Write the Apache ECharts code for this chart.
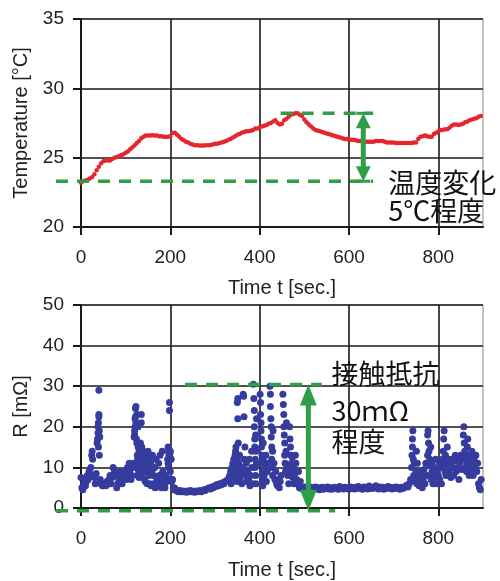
<!DOCTYPE html>
<html><head><meta charset="utf-8">
<script src="https://cdn.jsdelivr.net/npm/echarts@6/dist/echarts.min.js"></script>
<style>html,body{margin:0;padding:0;background:#fff}#c{width:500px;height:581px}</style>
</head><body><div id="c"></div>
<script>
// ---- tick values ----
const timeTicks = [0, 200, 400, 600, 800];
const tempTicks = [20, 25, 30, 35];
const resTicks = [0, 10, 20, 30, 40, 50];

// ---- temperature series [time s, °C] ----
const tempData = [
[0,23.2],[5,23.3],[10,23.35],[15,23.4],[20,23.5],[25,23.6],[30,23.8],[35,24.1],[40,24.35],[45,24.6],
[50,24.75],[55,24.8],[60,24.8],[65,24.8],[70,24.9],[75,25.0],[80,25.05],[85,25.1],[90,25.2],[95,25.25],
[100,25.35],[105,25.45],[110,25.6],[115,25.75],[120,25.9],[125,26.05],[130,26.2],[135,26.4],[140,26.5],[145,26.6],
[150,26.6],[155,26.6],[160,26.62],[165,26.6],[170,26.6],[175,26.55],[180,26.55],[185,26.5],[190,26.5],[195,26.5],
[200,26.55],[205,26.8],[210,26.8],[215,26.65],[220,26.5],[225,26.35],[230,26.25],[235,26.15],[240,26.1],[245,26.0],
[250,25.95],[255,25.9],[260,25.9],[265,25.88],[270,25.88],[275,25.88],[280,25.9],[285,25.9],[290,25.92],[295,25.95],
[300,26.0],[305,26.0],[310,26.05],[315,26.1],[320,26.15],[325,26.2],[330,26.3],[335,26.35],[340,26.45],[345,26.55],
[350,26.65],[355,26.7],[360,26.8],[365,26.85],[370,26.9],[375,26.9],[380,26.95],[385,27.0],[390,27.1],[395,27.1],
[400,27.2],[405,27.25],[410,27.3],[415,27.35],[420,27.45],[425,27.5],[430,27.6],[435,27.7],[440,27.5],[445,27.4],
[450,27.45],[455,27.7],[460,27.8],[465,27.95],[470,28.1],[475,28.15],[480,28.2],[485,28.2],[490,28.1],[495,28.0],
[500,27.75],[505,27.55],[510,27.4],[515,27.25],[520,27.1],[525,27.0],[530,26.95],[535,26.9],[540,26.85],[545,26.8],
[550,26.75],[555,26.7],[560,26.65],[565,26.6],[570,26.55],[575,26.5],[580,26.45],[585,26.4],[590,26.35],[595,26.35],
[600,26.3],[605,26.3],[610,26.3],[615,26.25],[620,26.2],[625,26.2],[630,26.18],[635,26.15],[640,26.15],[645,26.15],
[650,26.15],[655,26.15],[660,26.2],[665,26.2],[670,26.2],[675,26.2],[680,26.15],[685,26.1],[690,26.1],[695,26.1],
[700,26.1],[705,26.05],[710,26.05],[715,26.05],[720,26.05],[725,26.05],[730,26.05],[735,26.05],[740,26.05],[745,26.1],
[750,26.1],[755,26.35],[760,26.5],[765,26.55],[770,26.6],[775,26.55],[780,26.5],[785,26.5],[790,26.7],[795,26.8],
[800,26.9],[805,27.0],[810,27.0],[815,27.05],[820,27.05],[825,27.15],[830,27.3],[835,27.4],[840,27.4],[845,27.35],
[850,27.4],[855,27.45],[860,27.55],[865,27.6],[870,27.7],[875,27.75],[880,27.8],[885,27.85],[890,27.95],[895,28.0]
];

// ---- contact resistance series [time s, mΩ] ----
const resData = [
[0,7.5],[2,5],[4,4.5],[6,6],[8,7],[10,5.5],[12,6.5],[14,8],[16,7],[18,9],[20,8.5],[22,10],[24,13],[25,14],[26,12],[28,8],[30,7.5],[32,6],[34,8.5],
[36,16],[37,17],[38,18.5],[38,20],[39,21],[40,22.5],[40,23],[41,19],[42,17.5],[40,29],[39,15],[41,13],[43,7],[45,6],[48,5.5],[50,5.5],[53,6],[56,5.5],[58,6.5],[60,6],
[63,7],[65,8],[67,6],[70,7.5],[72,10],[75,9],[77,8],[80,5],[82,6],[85,7],[88,9],[90,8.5],[92,6],[95,7.5],[97,8],[100,9],[102,7],[104,10],[106,8.5],[108,11],
[110,9.5],[112,7],[114,8],[116,10],[118,11],[119,17.5],[120,18],[120,19],[121,20],[121,22],[122,22.5],[122,24.5],[123,25],[123,21],[124,20],[124,17],[125,16],[125,23],
[126,13],[126,10],[127,12],[127,8],[128,15],[128,20],[129,11],[129,9],[130,14],[130,7.5],[131,12],[132,10],[133,16],[134,13],[134,9],[135,21],[135,23],[136,12],[136,15],
[137,8.5],[138,11],[139,14],[140,9],[141,12],[142,7],[143,10],[144,6.5],[145,13],[146,9],[147,11],[148,6],[150,14],[150,10],[152,8],[153,12],[154,6],[156,11],[157,5.5],
[159,9],[160,13],[162,8],[163,6],[165,10],[166,5],[168,12],[170,7],[172,5.5],[174,11],[175,8],[177,13],[178,6],[180,5],[182,14],[183,9],[185,7],[187,6],[188,5],[190,8],
[192,6.5],[194,12],[195,15],[195,11],[196,14],[196,10],[197,13],[197,7],[198,24],[198,26],[199,13.5],[199,12.5],[200,9],[200,14],[201,7],[202,12],[203,6.5],[205,7],[207,4.5],[209,5],
[212,4.5],[215,4.2],[218,4],[221,4.3],[224,4],[227,4.2],[230,4],[233,4.1],[236,3.9],[239,4.2],[242,4],[245,4.3],[248,4],[251,4.1],[254,3.9],[257,4.2],[260,4],[263,4.1],[266,4.3],
[269,4],[272,4.2],[275,4.5],[278,4.3],[281,4.6],[284,4.8],[287,5],[290,4.7],[293,5.2],[296,5],[299,5.5],[302,5.3],[305,5.8],[308,5.5],[311,6],[314,5.7],[317,6.2],[320,6],
[323,6.5],[326,6.8],[329,7],[332,7.5],
[333,8],[335,9],[336,6],[338,10],[340,11],[341,7.5],[342,12],[344,9],[345,13],[346,14],[347,15],[348,10],[349,6.5],[350,12],[350,26],[351,27],[351,22],[352,16],[353,11],
[354,8],[355,13],[356,7],[358,9],[360,6],[362,10],[363,28],[364,27.5],[365,22.5],[366,12],[367,15],[368,8],[370,11],[371,6.5],[373,9],[375,7],[377,12],[378,5.5],[380,8],
[382,14],[383,10],[385,6],
[386,30.5],[387,27],[388,24],[388,20],[389,17],[389,15],[390,12],[390,10],[391,8],[391,18],[392,14],[392,6],[393,22],[393,11],
[401,28],[402,26],[402,23],[403,21],[403,19],[404,17],[404,15],[405,13],[405,11],[406,9],[406,7],[407,5.5],[408,16],[408,12],[410,8],[412,10],[414,13],[415,6.5],[417,9],[419,11],
[423,30],[424,28],[424,25],[425,22],[426,20],[426,17.5],[427,15],[427,12],[428,10],[429,8],[429,14],[430,19],[432,11],[434,7],[436,9],[438,6],[440,5.5],[442,7],[444,5],[446,6.5],[448,8],
[452,28],[453,25.5],[454,23],[454,20],[455,18],[456,16],[456,13],[457,11],[458,9],[459,14],[460,21],[461,10],[463,8],[465,6],
[467,20],[468,17],[469,15],[470,13],[471,11],[472,9],[473,12.5],[474,7.5],[476,10],[477,6],[479,8.5],[480,13],[481,11],[483,7],[485,6],[487,9],[489,5],[491,6.5],[493,4.8],
[495,5],[498,4.6],[501,5.2],[504,4.8],[507,4.5],[510,5],[513,4.7],[516,5.1],[519,4.6],[522,4.9],[525,5.2],[528,4.7],[531,5],[534,4.5],[537,4.9],[540,5.1],[543,4.6],[546,5],
[549,4.8],[552,5.2],[555,4.7],[558,5],[561,4.6],[564,4.9],[567,5.1],[570,4.8],[573,5],[576,4.6],[579,5.3],[582,4.9],[585,5],[588,4.7],[591,5.1],[594,4.8],[597,5],[600,4.6],
[603,5.2],[606,4.9],[609,5],[612,4.7],[615,5.1],[618,4.8],[621,5.3],[624,4.9],[627,5],[630,4.6],[633,5.2],[636,4.8],[639,5],[642,4.7],[645,5.4],[648,5],[651,4.8],[654,5.1],
[657,4.9],[660,5.5],[663,5],[666,4.7],[669,5.2],[672,4.9],[675,5.1],[678,4.6],[681,5],[684,4.8],[687,5.3],[690,4.9],[693,5.1],[696,4.7],[699,5],[702,4.8],[705,5.2],[708,4.9],
[711,5],[714,4.6],[717,5.1],[720,4.8],[723,5],[726,5.3],[729,5.6],[732,5.2],[735,6],
[738,7],[740,10],[741,13],[742,15],[742,17],[743,19],[744,12],[745,8],[746,11],[748,6.5],[750,9],[751,14],[752,6],[753,11],[755,7.5],[757,5.5],[759,9],[760,6.5],[762,8],[764,5],
[766,7],[768,9.5],[770,6],[772,11],[774,8],[776,13],[776,18],[777,19],[778,16],[779,14],[780,10.5],[781,12],[782,8],[783,15],[784,7],[785,11],[786,9],[788,6],[790,10],[792,7.5],
[794,12],[796,6],[798,9],[800,8],[802,11],[803,7],[805,10],[807,6],[809,12],[811,14],[812,17],[813,19],[814,11],[815,9],[816,13],[817,8],[818,10.5],[820,15],[822,12],[824,9],
[826,11],[828,7.5],[830,12],[832,10],[834,8],[836,11.5],[838,13],[840,9],[842,12],[844,10],[846,7],[848,11],[850,13],[852,9.5],[854,12],[856,18],[857,20],[858,16],[859,14],
[860,12],[861,10],[862,13],[863,9],[864,11],[865,15],[866,17],[867,12.5],[868,10],[869,8],[870,11],[871,13],[872,9],[873,12],[874,10],[875,14],[876,11],[878,8],[880,12],
[882,10],[884,13],[886,9],[888,11],[890,6],[892,5],[894,4.5],[896,7]
];

// ---- annotation texts ----
const tempNoteLines = ['温度変化', '5℃程度'];
const resNoteLines = ['接触抵抗', '30ｍΩ', '程度'];

// ---- annotation placement (data units) ----
const tempAnno = { lowY: 23.3, highY: 28.2, lowX: [-56, 654], highX: [447, 654], arrowX: 632, textX: 688, textY: [23.22, 21.18] };
const resAnno = { lowY: -0.7, highY: 30.4, lowX: [-56, 569], highX: [233, 539], arrowX: 509, textX: 561, textY: [33, 24, 16.4] };

const GREEN = '#2f9e48';
const INK = '#1a1a1a';
const LATIN = '"Liberation Sans", Arial, sans-serif';

const chart = echarts.init(document.getElementById('c'), null, { renderer: 'canvas' });

function xAxisCfg(gi, gap) {
  return {
    type: 'value', gridIndex: gi, min: 0, max: 900, interval: 200,
    axisLine: { show: true, onZero: false, lineStyle: { color: INK, width: 2 } },
    axisTick: { show: true, length: 8, customValues: timeTicks, lineStyle: { color: INK, width: 2 } },
    splitLine: { show: true, lineStyle: { color: INK, width: 1.6 } },
    axisLabel: { customValues: timeTicks, fontSize: 19, color: '#222', margin: 21, fontFamily: LATIN },
    name: 'Time t [sec.]', nameLocation: 'middle', nameGap: gap,
    nameTextStyle: { fontSize: 20, color: '#222', fontFamily: LATIN }
  };
}
function yAxisCfg(gi, min, max, interval, name, gap) {
  return {
    type: 'value', gridIndex: gi, min: min, max: max, interval: interval,
    axisLine: { show: true, onZero: false, lineStyle: { color: INK, width: 2 } },
    axisTick: { show: true, length: 8, lineStyle: { color: INK, width: 2 } },
    splitLine: { show: true, lineStyle: { color: INK, width: 1.6 } },
    axisLabel: { fontSize: 19, color: '#222', margin: 17, fontFamily: LATIN },
    name: name, nameLocation: 'middle', nameGap: gap,
    nameTextStyle: { fontSize: 20, color: '#222', fontFamily: LATIN }
  };
}

chart.setOption({
  animation: false,
  backgroundColor: '#fff',
  grid: [
    { left: 81, top: 19, width: 402, height: 208, show: true, borderColor: '#888', borderWidth: 1 },
    { left: 81, top: 305, width: 402, height: 205, show: true, borderColor: '#888', borderWidth: 1 }
  ],
  xAxis: [xAxisCfg(0, 51), xAxisCfg(1, 52)],
  yAxis: [
    yAxisCfg(0, 20, 35, 5, 'Temperature [°C]', 47),
    yAxisCfg(1, 0, 50, 10, 'R [mΩ]', 45)
  ],
  series: [
    { type: 'scatter', xAxisIndex: 0, yAxisIndex: 0, data: tempData, symbolSize: 4.5,
      itemStyle: { color: '#e5262c', opacity: 1 }, silent: true, z: 3 },
    { type: 'scatter', xAxisIndex: 1, yAxisIndex: 1, data: resData, symbolSize: 7,
      itemStyle: { color: '#363b9e', opacity: 1 }, silent: true, z: 3 }
  ]
});

function px(gi, x, y) { return chart.convertToPixel({ xAxisIndex: gi, yAxisIndex: gi }, [x, y]); }

function dashed(gi, x0, x1, y) {
  const a = px(gi, x0, y), b = px(gi, x1, y);
  return { type: 'line', z: 10, shape: { x1: a[0], y1: a[1], x2: b[0], y2: b[1] },
    style: { stroke: GREEN, lineWidth: 3.5, lineDash: [12, 9] } };
}
function arrow(gi, x, y0, y1, headW, headH, bars) {
  const top = px(gi, x, y1), bot = px(gi, x, y0);
  const cx = top[0];
  const els = [
    { type: 'line', z: 11, shape: { x1: cx, y1: top[1] + headH - 2, x2: cx, y2: bot[1] - headH + 2 },
      style: { stroke: GREEN, lineWidth: 5 } },
    { type: 'polygon', z: 11, shape: { points: [[cx - headW / 2, top[1] + headH], [cx, top[1]], [cx + headW / 2, top[1] + headH]] },
      style: { fill: GREEN } },
    { type: 'polygon', z: 11, shape: { points: [[cx - headW / 2, bot[1] - headH], [cx, bot[1]], [cx + headW / 2, bot[1] - headH]] },
      style: { fill: GREEN } }
  ];
  if (bars) {
    els.push({ type: 'line', z: 11, shape: { x1: cx - 7, y1: top[1], x2: cx + 7, y2: top[1] }, style: { stroke: GREEN, lineWidth: 3 } });
    els.push({ type: 'line', z: 11, shape: { x1: cx - 7, y1: bot[1], x2: cx + 7, y2: bot[1] }, style: { stroke: GREEN, lineWidth: 3 } });
  }
  return els;
}
function texts(gi, x, ys, lines) {
  return lines.map((t, i) => {
    const p = px(gi, x, ys[i]);
    return { type: 'text', z: 12, x: p[0], y: p[1],
      style: { text: t, fill: '#111', font: '27px "Noto Sans CJK JP"', align: 'left', verticalAlign: 'middle' } };
  });
}

const g = [];
g.push(dashed(0, tempAnno.lowX[0], tempAnno.lowX[1], tempAnno.lowY));
g.push(dashed(0, tempAnno.highX[0], tempAnno.highX[1], tempAnno.highY));
g.push(...arrow(0, tempAnno.arrowX, tempAnno.lowY, tempAnno.highY, 15, 15, true));
g.push(...texts(0, tempAnno.textX, tempAnno.textY, tempNoteLines));
g.push(dashed(1, resAnno.lowX[0], resAnno.lowX[1], resAnno.lowY));
g.push(dashed(1, resAnno.highX[0], resAnno.highX[1], resAnno.highY));
g.push(...arrow(1, resAnno.arrowX, resAnno.lowY, resAnno.highY, 17, 21, false));
g.push(...texts(1, resAnno.textX, resAnno.textY, resNoteLines));
chart.setOption({ graphic: g });
</script>
</body></html>
